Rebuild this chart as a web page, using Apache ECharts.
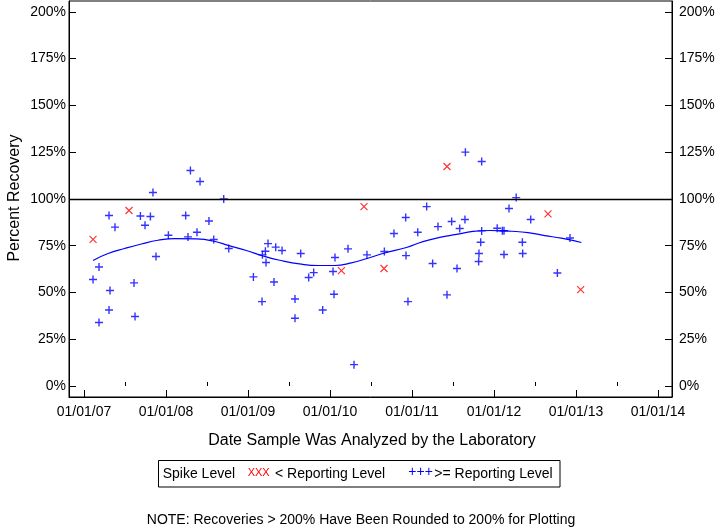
<!DOCTYPE html>
<html><head><meta charset="utf-8">
<script src="https://cdn.jsdelivr.net/npm/echarts@6/dist/echarts.min.js"></script>
<style>html,body{margin:0;padding:0;background:#fff}#c{width:720px;height:528px}</style>
</head><body><div id="c"></div>
<script>
// Dates are expressed as decimal years (e.g. 2008.5 = early July 2008)
const aboveDates = [2007.110,2007.183,2007.183,2007.305,2007.305,2007.317,2007.378,2007.610,2007.622,2007.688,
  2007.744,2007.810,2007.841,2007.878,2008.029,2008.240,2008.268,2008.298,2008.378,2008.415,
  2008.524,2008.582,2008.704,2008.765,2009.066,2009.171,2009.176,2009.212,2009.220,2009.244,
  2009.317,2009.338,2009.415,2009.573,2009.573,2009.643,2009.740,2009.801,2009.911,2010.037,
  2010.049,2010.061,2010.220,2010.293,2010.451,2010.663,2010.780,2010.923,2010.927,2010.951,
  2011.070,2011.179,2011.252,2011.317,2011.427,2011.484,2011.549,2011.582,2011.646,2011.651,
  2011.813,2011.817,2011.838,2011.850,2011.850,2012.039,2012.102,2012.122,2012.122,2012.183,
  2012.271,2012.346,2012.350,2012.448,2012.773,2012.927];
const aboveValues = [56.9,63.6,33.9,91.1,40.6,51.0,84.9,55.1,37.1,90.9,
  85.9,90.6,103.4,69.2,80.6,91.1,79.7,115.2,82.2,109.3,
  88.2,78.3,100.0,73.5,58.3,45.1,70.1,72.0,66.0,76.1,
  55.6,74.2,72.4,46.5,36.2,70.8,58.0,60.6,40.6,61.2,
  49.0,68.7,73.3,11.4,70.1,71.9,81.5,90.1,69.7,45.1,
  82.2,95.9,65.5,85.2,48.7,87.9,62.8,84.2,89.0,125.0,
  66.5,70.8,76.8,82.9,120.0,84.3,83.0,83.0,70.3,94.9,
  100.7,76.8,70.8,89.0,60.4,79.1];
const belowDates = [2007.110,2007.549,2010.139,2010.415,2010.659,2011.427,2012.659,2013.057];
const belowValues = [78.4,93.8,61.7,95.9,62.8,117.3,92.0,51.5];
const trendDates = [2007.110,2007.293,2007.496,2007.700,2007.902,2008.106,2008.371,2008.573,2008.777,2008.980,
  2009.183,2009.387,2009.651,2009.854,2010.057,2010.261,2010.463,2010.667,2010.932,2011.134,
  2011.338,2011.541,2011.744,2011.948,2012.212,2012.415,2012.618,2012.822,2013.066];
const trendValues = [67.1,70.8,73.5,75.9,77.9,78.8,78.6,77.5,74.9,72.4,
  69.5,67.2,65.1,64.4,64.4,65.8,68.3,71.1,74.0,77.2,
  79.4,81.0,82.6,83.1,82.7,82.0,80.4,79.0,76.7];
const yearTicks = [2007,2008,2009,2010,2011,2012,2013,2014];
const halfYearTicks = [2007.5,2008.5,2009.5,2010.5,2011.5,2012.5,2013.5];
const pctTicks = [0,25,50,75,100,125,150,175,200];
const referenceLevel = 100;

const zip = (a, b) => a.map((v, i) => [v, b[i]]);
const FONT = '"Liberation Sans", Arial, sans-serif';
const X_MIN = 2006.817, X_MAX = 2014.171, Y_MIN = -5.9, Y_MAX = 205.8;
const PLUS = 'path://M3.5,0 L3.5,7 M0,3.5 L7,3.5';
const CROSS = 'path://M0,0 L7,7 M7,0 L0,7';

const yBase = {
  type: 'value', min: Y_MIN, max: Y_MAX,
  axisLine: {show: true, lineStyle: {color: '#000', width: 1}},
  axisTick: {show: true, inside: true, length: 7, customValues: pctTicks, lineStyle: {color: '#000'}},
  splitLine: {show: false},
  axisLabel: {customValues: pctTicks, formatter: v => v + '%', color: '#000', fontFamily: FONT, fontSize: 14}
};

const chart = echarts.init(document.getElementById('c'), null, {renderer: 'canvas'});
chart.setOption({
  animation: false,
  backgroundColor: '#fff',
  grid: {left: 69, right: 48, top: 1, bottom: 131, show: true, borderColor: '#000', borderWidth: 1, backgroundColor: 'transparent'},
  xAxis: [{
    type: 'value', min: X_MIN, max: X_MAX, position: 'bottom',
    axisLine: {show: true, onZero: false, lineStyle: {color: '#000', width: 1}},
    axisTick: {show: true, inside: true, length: 7, customValues: yearTicks, lineStyle: {color: '#000'}},
    splitLine: {show: false},
    axisLabel: {customValues: yearTicks, margin: 8, color: '#000', fontFamily: FONT, fontSize: 14,
      formatter: v => '01/01/' + ('0' + (Math.round(v) % 100)).slice(-2)}
  }, {
    type: 'value', min: X_MIN, max: X_MAX, position: 'bottom',
    axisLine: {show: false},
    axisTick: {show: true, inside: true, length: 4, customValues: halfYearTicks, lineStyle: {color: '#000'}},
    splitLine: {show: false},
    axisLabel: {show: false}
  }],
  yAxis: [
    Object.assign({}, yBase, {position: 'left', axisLabel: Object.assign({}, yBase.axisLabel, {margin: 3})}),
    Object.assign({}, yBase, {position: 'right', axisLabel: Object.assign({}, yBase.axisLabel, {margin: 7})})
  ],
  series: [{
    type: 'line', name: 'trend', data: zip(trendDates, trendValues), smooth: true,
    showSymbol: false, symbol: 'none', silent: true,
    lineStyle: {color: '#0000ff', width: 1.2},
    markLine: {silent: true, symbol: 'none', label: {show: false},
      lineStyle: {color: '#000', width: 1.3, type: 'solid'},
      data: [{yAxis: referenceLevel}]}
  }, {
    type: 'scatter', name: '>= Reporting Level', data: zip(aboveDates, aboveValues),
    symbol: PLUS, symbolSize: 8, silent: true,
    itemStyle: {color: 'rgba(0,0,0,0)', borderColor: '#0000ff', borderWidth: 1.4}
  }, {
    type: 'scatter', name: '< Reporting Level', data: zip(belowDates, belowValues),
    symbol: CROSS, symbolSize: 7, silent: true,
    itemStyle: {color: 'rgba(0,0,0,0)', borderColor: '#ff0000', borderWidth: 1.2}
  }],
  graphic: [
    {type: 'text', x: 15, y: 198, rotation: Math.PI / 2,
      style: {text: 'Percent Recovery', fill: '#000', font: '16px ' + FONT, textAlign: 'center', textVerticalAlign: 'middle'}},
    {type: 'text', x: 372, y: 441,
      style: {text: 'Date Sample Was Analyzed by the Laboratory', fill: '#000', font: '16px ' + FONT, textAlign: 'center', textVerticalAlign: 'middle'}},
    {type: 'rect', shape: {x: 158.5, y: 460.5, width: 401.5, height: 26.5},
      style: {fill: 'none', stroke: '#000', lineWidth: 1}},
    {type: 'text', x: 162.7, y: 474, style: {text: 'Spike Level', fill: '#000', font: '14px ' + FONT, textVerticalAlign: 'middle'}},
    {type: 'text', x: 247.7, y: 473, style: {text: 'XXX', fill: '#ff0000', font: '11px ' + FONT, textVerticalAlign: 'middle'}},
    {type: 'text', x: 275, y: 474, style: {text: '< Reporting Level', fill: '#000', font: '14px ' + FONT, textVerticalAlign: 'middle'}},
    {type: 'text', x: 408.3, y: 472, style: {text: '+++', fill: '#0000ff', font: '14px ' + FONT, textVerticalAlign: 'middle'}},
    {type: 'text', x: 434.3, y: 474, style: {text: '>= Reporting Level', fill: '#000', font: '14px ' + FONT, textVerticalAlign: 'middle'}},
    {type: 'text', x: 361, y: 520, style: {text: 'NOTE: Recoveries > 200% Have Been Rounded to 200% for Plotting', fill: '#000', font: '14px ' + FONT, textAlign: 'center', textVerticalAlign: 'middle'}}
  ]
});
</script></body></html>
